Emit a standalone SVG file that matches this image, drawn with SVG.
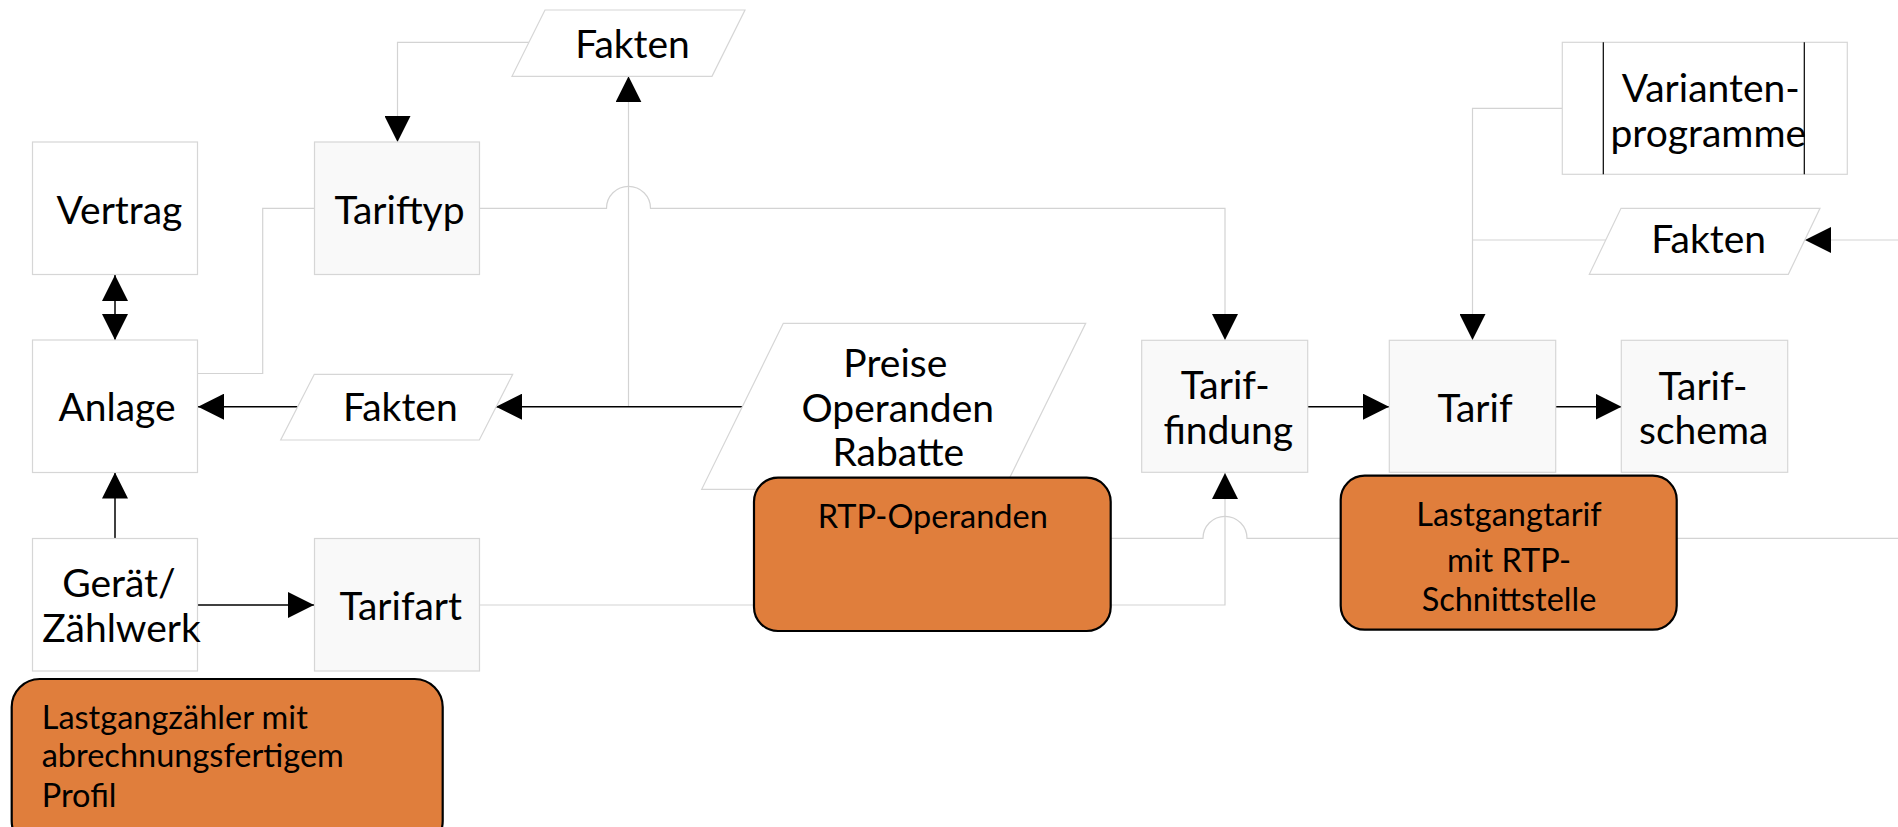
<svg xmlns="http://www.w3.org/2000/svg" width="1898" height="827" viewBox="0 0 1898 827">
<style>
.box{stroke:#d6d6d6;stroke-width:1.2}
.w{fill:#ffffff}
.g{fill:#f9f9f9}
.t{font-family:Lato,"Noto Sans",sans-serif;font-size:39px;fill:#000;text-anchor:middle}
.s{font-family:Lato,"Noto Sans",sans-serif;font-size:32.5px;fill:#000}
.orange{fill:#e07e3c;stroke:#000;stroke-width:2.2}
.cg{fill:none;stroke:#d3d3d3;stroke-width:1.2}
.cb{fill:none;stroke:#000;stroke-width:1.5}
.a{marker-end:url(#ah)}
</style>
<defs>
<marker id="ah" markerUnits="userSpaceOnUse" markerWidth="26" markerHeight="26" viewBox="0 0 25 25" refX="25" refY="12.5" orient="auto-start-reverse">
<path d="M0,0 L25,12.5 L0,25 z" fill="#000"/>
</marker>
</defs>
<rect width="1898" height="827" fill="#ffffff"/>

<g id="connectors">
<path class="cg" d="M198,373.5 H262.7 V208.3 H314"/>
<path class="cg a" d="M529,42.3 H397.5 V142"/>
<path class="cg a" d="M628.5,406.7 V76.3"/>
<path class="cg a" d="M480,208.3 H606.5 A22,22 0 0 1 650.5,208.3 H1225 V340"/>
<path class="cg a" d="M480,605 H1225 V473"/>
<path class="cg" d="M1110,538.3 H1203 A22,22 0 0 1 1247,538.3 H1898"/>
<path class="cg a" d="M1562,108.3 H1472.5 V340"/>
<path class="cg" d="M1607,240 H1472.5"/>
<path class="cg a" d="M1898,240 H1805"/>
<path class="cb a" d="M743,406.7 H496"/>
<path class="cb a" d="M298,406.7 H198"/>
<path class="cb a" d="M115,538 V472.5"/>
<path class="cb a" d="M198,605 H314"/>
<path class="cb" d="M115,275 V340" marker-start="url(#ah)" marker-end="url(#ah)"/>
<path class="cb a" d="M1307.7,406.7 H1389"/>
<path class="cb a" d="M1555.7,406.7 H1621.5"/>
</g>

<g id="vertrag">
<rect class="box w" x="32.5" y="142" width="165" height="132.5"/>
<text class="t" x="119.5" y="224">Vertrag</text>
</g>
<g id="tariftyp">
<rect class="box g" x="314.5" y="142" width="165" height="132.5"/>
<text class="t" x="399.5" y="224">Tariftyp</text>
</g>
<g id="fakten-top">
<polygon class="box w" points="545,10 745,10 712,76.3 512,76.3"/>
<text class="t" x="632.5" y="58.3">Fakten</text>
</g>
<g id="anlage">
<rect class="box w" x="32.5" y="340" width="165" height="132.5"/>
<text class="t" x="117" y="420.7">Anlage</text>
</g>
<g id="fakten-mid">
<polygon class="box w" points="314.3,374.3 512.7,374.3 479.3,440 280.7,440"/>
<text class="t" x="400.3" y="420.7">Fakten</text>
</g>
<g id="geraet">
<rect class="box w" x="32.5" y="538.5" width="165" height="132.5"/>
<text class="t" x="119" y="596.7">Gerät/</text>
<text class="t" x="121.5" y="641.7">Zählwerk</text>
</g>
<g id="tarifart">
<rect class="box g" x="314.5" y="538.5" width="165" height="132.5"/>
<text class="t" x="400.7" y="620">Tarifart</text>
</g>
<g id="preise">
<polygon class="box w" points="783.3,323.3 1085.7,323.3 1004,489.3 701.7,489.3"/>
<text class="t" x="895.3" y="377.3">Preise</text>
<text class="t" x="897.8" y="421.7">Operanden</text>
<text class="t" x="898.3" y="465.7">Rabatte</text>
</g>
<g id="rtp-operanden">
<rect class="orange" x="754" y="477.7" width="356.7" height="153.3" rx="24" ry="24"/>
<text class="s" x="932.8" y="527.7" text-anchor="middle">RTP-Operanden</text>
</g>
<g id="tariffindung">
<rect class="box g" x="1141.7" y="340.3" width="166" height="132"/>
<text class="t" x="1225.3" y="399.3">Tarif-</text>
<text class="t" x="1228.3" y="444.3">findung</text>
</g>
<g id="tarif">
<rect class="box g" x="1389.3" y="340.3" width="166.4" height="132"/>
<text class="t" x="1475" y="421.7">Tarif</text>
</g>
<g id="tarifschema">
<rect class="box g" x="1621.3" y="340.3" width="166.4" height="132"/>
<text class="t" x="1703" y="400">Tarif-</text>
<text class="t" x="1703.7" y="444">schema</text>
</g>
<g id="lastgangtarif">
<rect class="orange" x="1340.7" y="475.7" width="336" height="154" rx="24" ry="24"/>
<text class="s" x="1509" y="526" text-anchor="middle">Lastgangtarif</text>
<text class="s" x="1509" y="572.3" text-anchor="middle">mit RTP-</text>
<text class="s" x="1509" y="610.7" text-anchor="middle">Schnittstelle</text>
</g>
<g id="variantenprogramme">
<rect class="box w" x="1562.3" y="42.3" width="285" height="132"/>
<line x1="1603.3" y1="42.3" x2="1603.3" y2="174.3" stroke="#000" stroke-width="1.2"/>
<line x1="1804.3" y1="42.3" x2="1804.3" y2="174.3" stroke="#000" stroke-width="1.2"/>
<text class="t" x="1710.7" y="102">Varianten-</text>
<text class="t" x="1708.3" y="146.5">programme</text>
</g>
<g id="fakten-right">
<polygon class="box w" points="1621,208.3 1820,208.3 1788.3,274.3 1589.3,274.3"/>
<text class="t" x="1708.7" y="253.3">Fakten</text>
</g>
<g id="lastgangzaehler">
<rect class="orange" x="11.7" y="679" width="431" height="170" rx="28" ry="28"/>
<text class="s" x="41.7" y="729">Lastgangzähler mit</text>
<text class="s" x="41.7" y="767.3">abrechnungsfertigem</text>
<text class="s" x="41.7" y="806.7">Profil</text>
</g>
</svg>
